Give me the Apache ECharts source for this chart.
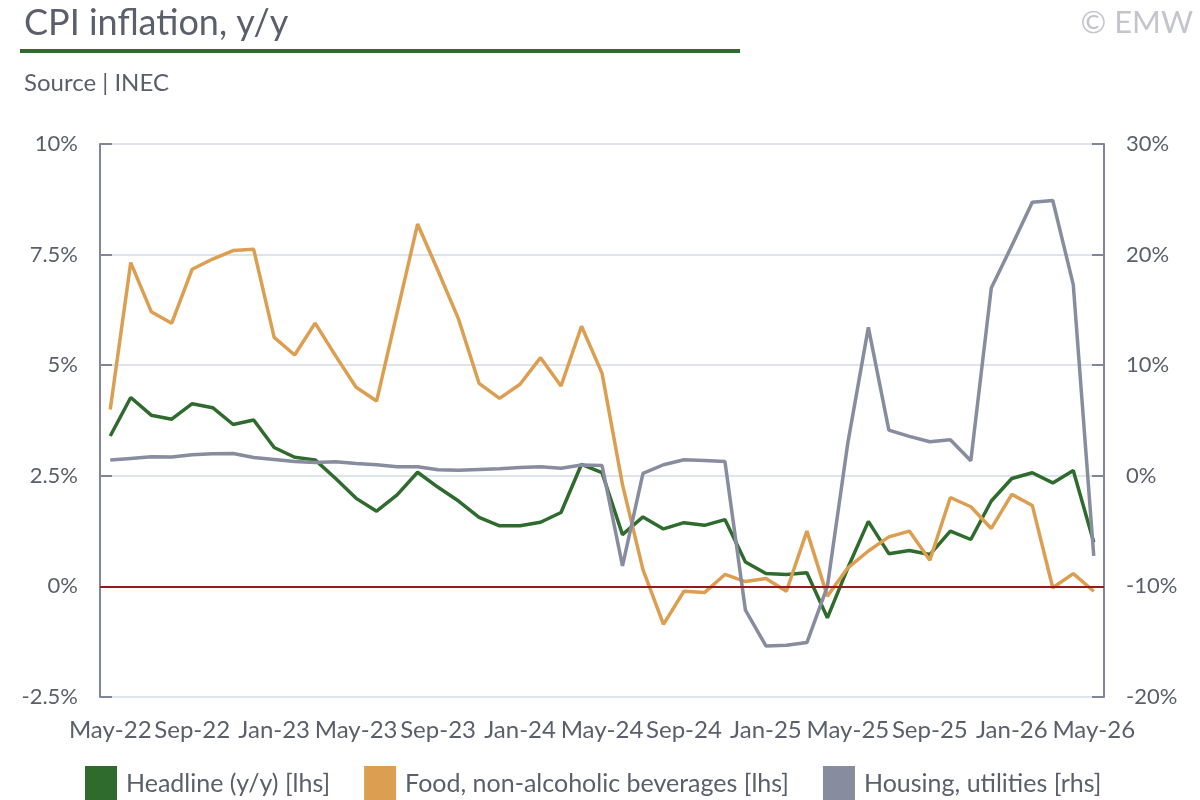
<!DOCTYPE html>
<html>
<head>
<meta charset="utf-8">
<title>CPI inflation, y/y</title>
<script src="https://cdn.jsdelivr.net/npm/echarts@6/dist/echarts.min.js"></script>
<style>
  html, body { margin: 0; padding: 0; background: #fff; }
  #main { width: 1200px; height: 800px; }
</style>
</head>
<body>
<div id="main"></div>
<script>
// months May-22 .. May-26
var months = ['May-22','Jun-22','Jul-22','Aug-22','Sep-22','Oct-22','Nov-22','Dec-22',
  'Jan-23','Feb-23','Mar-23','Apr-23','May-23','Jun-23','Jul-23','Aug-23','Sep-23','Oct-23','Nov-23','Dec-23',
  'Jan-24','Feb-24','Mar-24','Apr-24','May-24','Jun-24','Jul-24','Aug-24','Sep-24','Oct-24','Nov-24','Dec-24',
  'Jan-25','Feb-25','Mar-25','Apr-25','May-25','Jun-25','Jul-25','Aug-25','Sep-25','Oct-25','Nov-25','Dec-25',
  'Jan-26','Feb-26','Mar-26','Apr-26','May-26'];

// headline y/y, % (lhs)
var headline = [3.40,4.27,3.87,3.78,4.13,4.04,3.66,3.76,3.14,2.92,2.86,2.44,1.99,1.70,2.07,2.58,2.24,1.93,1.56,1.37,
  1.37,1.45,1.67,2.76,2.57,1.17,1.57,1.30,1.44,1.38,1.51,0.55,0.29,0.27,0.31,-0.71,0.42,1.47,0.74,0.81,
  0.72,1.25,1.06,1.93,2.44,2.57,2.34,2.62,1.00];

// food, non-alcoholic beverages, % (lhs)
var food = [4.00,7.32,6.21,5.95,7.17,7.40,7.59,7.62,5.63,5.23,5.95,5.21,4.50,4.19,6.19,8.19,7.13,6.04,4.59,4.25,
  4.57,5.17,4.53,5.88,4.82,2.30,0.38,-0.86,-0.11,-0.14,0.27,0.11,0.18,-0.11,1.25,-0.22,0.42,0.80,1.12,1.25,
  0.59,2.01,1.80,1.31,2.08,1.83,-0.03,0.29,-0.11];

// housing, utilities, % (rhs)
var housing = [1.42,1.57,1.72,1.69,1.90,1.99,2.02,1.66,1.48,1.29,1.20,1.27,1.11,1.00,0.81,0.81,0.54,0.51,0.57,0.63,
  0.75,0.81,0.69,0.97,0.94,-8.14,0.21,1.00,1.45,1.39,1.30,-12.15,-15.38,-15.32,-15.08,-10.0,3.0,13.42,4.13,3.56,
  3.08,3.26,1.36,16.99,20.8,24.73,24.89,17.29,-7.24];

var seriesNames = ['Headline (y/y) [lhs]', 'Food, non-alcoholic beverages [lhs]', 'Housing, utilities [rhs]'];
var colors = ['#2e6b2d', '#dc9e50', '#878c9e'];

var txt = '#5b5f6b';
var axisGrey = '#80859a';
var font = 'Lato';

var myChart = echarts.init(document.getElementById('main'));

var option = {
  animation: false,
  color: colors,
  textStyle: { fontFamily: font },
  title: [
    { text: 'CPI inflation, y/y', left: 19, top: 0,
      textStyle: { fontFamily: font, fontSize: 36, fontWeight: 'normal', color: txt } },
    { text: 'Source | INEC', left: 19, top: 66,
      textStyle: { fontFamily: font, fontSize: 24, fontWeight: 'normal', color: txt } },
    { text: '\u00a9 EMW', right: 2, top: 2,
      textStyle: { fontFamily: font, fontSize: 31, fontWeight: 'normal', color: '#c4c5cc' } }
  ],
  graphic: [
    { type: 'rect', left: 20, top: 49, shape: { width: 720, height: 4 }, style: { fill: '#2e6b2d' } }
  ],
  legend: {
    data: seriesNames,
    left: 85, top: 766,
    icon: 'rect',
    itemWidth: 32, itemHeight: 36,
    itemGap: 34,
    padding: 0,
    textStyle: { fontFamily: font, fontSize: 25, color: txt, padding: [0, 0, 0, 4] }
  },
  grid: { left: 100, right: 96, top: 144, bottom: 103, containLabel: false },
  xAxis: {
    type: 'category',
    data: months,
    boundaryGap: true,
    axisLine: { lineStyle: { color: axisGrey, width: 2 } },
    axisTick: { inside: true, length: 12, interval: 0, lineStyle: { color: axisGrey, width: 2 } },
    axisLabel: { interval: 3, fontFamily: font, fontSize: 24, color: txt, margin: 21 }
  },
  yAxis: [
    {
      type: 'value', min: -2.5, max: 10, interval: 2.5,
      axisLine: { show: true, lineStyle: { color: axisGrey, width: 2 } },
      axisTick: { show: true, inside: true, length: 12, lineStyle: { color: axisGrey, width: 2 } },
      splitLine: { show: true, lineStyle: { color: '#dfe4ec', width: 2 } },
      axisLabel: { formatter: function (v) { return v + '%'; }, fontFamily: font, fontSize: 22, color: txt, margin: 22 }
    },
    {
      type: 'value', min: -20, max: 30, interval: 10,
      position: 'right',
      axisLine: { show: true, lineStyle: { color: axisGrey, width: 2 } },
      axisTick: { show: true, inside: true, length: 12, lineStyle: { color: axisGrey, width: 2 } },
      splitLine: { show: false },
      axisLabel: { formatter: function (v) { return v + '%'; }, fontFamily: font, fontSize: 22, color: txt, margin: 22 }
    }
  ],
  series: [
    {
      name: seriesNames[0], type: 'line', yAxisIndex: 0, data: headline,
      showSymbol: false, lineStyle: { width: 3.5 },
      markLine: {
        silent: true, symbol: 'none', label: { show: false },
        lineStyle: { color: '#931c1a', width: 2, type: 'solid' },
        data: [{ yAxis: 0 }]
      }
    },
    {
      name: seriesNames[1], type: 'line', yAxisIndex: 0, data: food,
      showSymbol: false, lineStyle: { width: 3.5 }
    },
    {
      name: seriesNames[2], type: 'line', yAxisIndex: 1, data: housing,
      showSymbol: false, lineStyle: { width: 3.5 }
    }
  ]
};

myChart.setOption(option);
</script>
</body>
</html>
